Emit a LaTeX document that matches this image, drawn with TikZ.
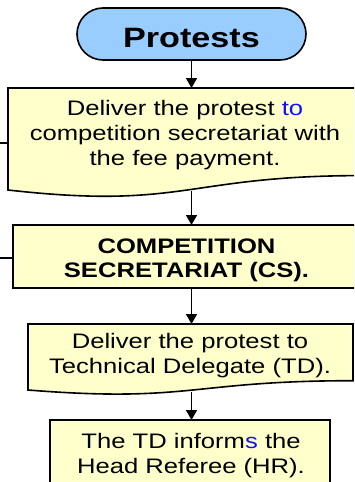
\documentclass[tikz,border=0pt]{standalone}
\usepackage{fontspec}
\setmainfont{Liberation Sans}[FakeStretch=1.22]
\usetikzlibrary{arrows.meta}
\definecolor{boxfill}{HTML}{FFFFCC}
\definecolor{termfill}{HTML}{99CCFF}
\definecolor{hlblue}{HTML}{1010FF}
\begin{document}
\begin{tikzpicture}[x=1pt,y=-1pt,
  shapeline/.style={draw=black,line width=1.6pt},
  flowarrow/.style={line width=1.6pt,-{Triangle[width=11pt,length=10pt]}},
  bodytext/.style={font=\fontsize{21}{25}\selectfont,align=center,inner sep=0pt,anchor=base},
  boldtext/.style={font=\fontsize{21}{24}\selectfont\bfseries,align=center,inner sep=0pt,anchor=base}]
\useasboundingbox (0,0) rectangle (354,482);
\clip (0,0) rectangle (354,482);
% shapes
\draw[shapeline,fill=termfill,rounded corners=26pt] (77,8) rectangle (306,60);
\draw[shapeline,fill=boxfill] (8,88) -- (362,88) -- (362,175.6)
  .. controls (185,175.6) and (185,210) .. (8,190) -- cycle;
\draw[shapeline,fill=boxfill] (13,225) rectangle (359,288);
\draw[shapeline,fill=boxfill] (28,324) -- (353,324) -- (353,380.7)
  .. controls (190.5,380.7) and (190.5,403) .. (28,390) -- cycle;
\draw[shapeline,fill=boxfill] (50,420) rectangle (330,500);
% texts (anchor base = baseline of the last line)
\node[font=\fontsize{28}{32}\selectfont\bfseries,inner sep=0pt,anchor=base] (termtext) at (191.5,47) {Protests};
\node[bodytext] (t1) at (185,165) {Deliver the protest \textcolor{hlblue}{to}\\competition secretariat with\\the fee payment.};
\node[boldtext] (t2) at (186.5,277) {COMPETITION\\SECRETARIAT (CS).};
\node[bodytext] (t3) at (190,373) {Deliver the protest to\\Technical Delegate (TD).};
\node[bodytext] (t4) at (191,473) {The TD inform\textcolor{hlblue}{s} the\\Head Referee (HR).};
% connector points
\coordinate (termbot) at (191.5,60);
\coordinate (b1top) at (191.5,88);
\coordinate (b1bot) at (191.5,191);
\coordinate (b2top) at (191.5,225);
\coordinate (b2bot) at (191.5,288);
\coordinate (b3top) at (191.5,324);
\coordinate (b3bot) at (191.5,392);
\coordinate (b4top) at (191.5,420);
\coordinate (in1) at (-2,143);
\coordinate (b1left) at (8,143);
\coordinate (in2) at (-2,258);
\coordinate (b2left) at (13,258);
% connectors
\draw[flowarrow] (termbot) -- (b1top);
\draw[flowarrow] (b1bot) -- (b2top);
\draw[flowarrow] (b2bot) -- (b3top);
\draw[flowarrow] (b3bot) -- (b4top);
\draw[line width=1.6pt] (in1) -- (b1left);
\draw[line width=1.6pt] (in2) -- (b2left);
\end{tikzpicture}
\end{document}
